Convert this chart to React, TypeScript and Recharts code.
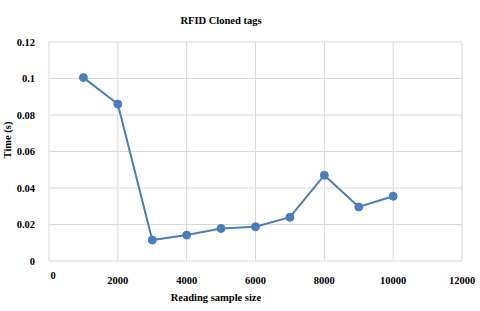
import { LineChart, Line, XAxis, YAxis, CartesianGrid } from 'recharts';

const sampleSizes = [1000, 2000, 3000, 4000, 5000, 6000, 7000, 8000, 9000, 10000];
const times = [0.1005, 0.086, 0.0115, 0.0142, 0.0178, 0.0188, 0.024, 0.047, 0.0296, 0.0355];
const xTicks = [0, 2000, 4000, 6000, 8000, 10000, 12000];
const yTicks = [0, 0.02, 0.04, 0.06, 0.08, 0.1, 0.12];

const data = sampleSizes.map((size, i) => ({ size, time: times[i] }));

const font = '"Liberation Serif", "Times New Roman", serif';

const XTick = ({ x, y, payload }: any) => (
  <text
    x={x}
    y={y}
    dy={payload.value === 0 ? 10 : 15}
    dx={payload.value === 0 ? 4 : 0}
    textAnchor="middle"
    fontFamily={font}
    fontWeight="bold"
    fontSize={10.5}
    fill="#000"
  >
    {payload.value}
  </text>
);

export default function App() {
  return (
    <div style={{ position: 'absolute', left: 0, top: 0, width: 480, height: 311, background: '#fff' }}>
      <LineChart width={480} height={311} data={data} margin={{ top: 42, right: 18, left: 9, bottom: 20 }}>
        <CartesianGrid stroke="#d9d9d9" strokeWidth={1} />
        <XAxis
          dataKey="size"
          type="number"
          domain={[0, 12000]}
          ticks={xTicks}
          axisLine={false}
          tickLine={false}
          height={30}
          tick={<XTick />}
          interval={0}
        />
        <YAxis
          type="number"
          domain={[0, 0.12]}
          ticks={yTicks}
          axisLine={false}
          tickLine={false}
          width={40}
          tickMargin={8}
          tick={{ fontFamily: font, fontWeight: 'bold', fontSize: 10.5, fill: '#000' }}
          interval={0}
        />
        <Line
          type="linear"
          dataKey="time"
          stroke="#4a7ebb"
          strokeWidth={2}
          dot={{ r: 4, fill: '#4a7ebb', stroke: '#4a7ebb', strokeWidth: 1 }}
          isAnimationActive={false}
        />
        <text x={221} y={24} textAnchor="middle" fontFamily={font} fontWeight="bold" fontSize={10.5} fill="#000">
          RFID Cloned tags
        </text>
        <text
          x={11}
          y={140}
          textAnchor="middle"
          transform="rotate(-90 11 140)"
          fontFamily={font}
          fontWeight="bold"
          fontSize={10.5}
          fill="#000"
        >
          Time (s)
        </text>
        <text x={216} y={301} textAnchor="middle" fontFamily={font} fontWeight="bold" fontSize={10.5} fill="#000">
          Reading sample size
        </text>
      </LineChart>
    </div>
  );
}
